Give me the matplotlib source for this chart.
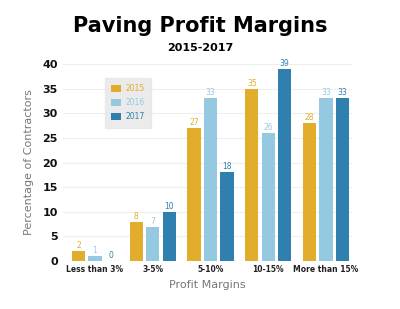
import numpy as np
import matplotlib
matplotlib.use("Agg")
import matplotlib.pyplot as plt

categories = ["Less than 3%", "3-5%", "5-10%", "10-15%", "More than 15%"]
years = ["2015", "2016", "2017"]
values_2015 = [2, 8, 27, 35, 28]
values_2016 = [1, 7, 33, 26, 33]
values_2017 = [0, 10, 18, 39, 33]
colors = ["#E2AD2D", "#95C9E2", "#2F80AE"]

fig = plt.figure(figsize=(4.0, 3.09), dpi=100)
ax = fig.add_axes([0.158, 0.155, 0.722, 0.638])

x = np.arange(len(categories))
width = 0.23
offset = 0.285
series = [values_2015, values_2016, values_2017]
for i, (vals, col, yr) in enumerate(zip(series, colors, years)):
    pos = x + (i - 1) * offset
    bars = ax.bar(pos, vals, width, color=col, label=yr, zorder=3)
    for b, v in zip(bars, vals):
        ax.text(b.get_x() + b.get_width() / 2, v + 0.2, str(v), ha="center", va="bottom",
                fontsize=5.5, color=col, zorder=4)

ax.set_xlim(-0.55, 4.45)
ax.set_ylim(0, 40)
ax.set_yticks(range(0, 41, 5))
ax.set_xticks(x)
ax.set_xticklabels(categories, fontsize=5.5, fontweight="bold", color="#222222")
ax.tick_params(axis="y", labelsize=8, length=0, pad=4, labelcolor="#111111")
ax.tick_params(axis="x", length=0, pad=3)
for lab in ax.get_yticklabels():
    lab.set_fontweight("bold")
ax.grid(axis="y", color="#EEEEEE", linewidth=0.8, zorder=0)
for s in ax.spines.values():
    s.set_visible(False)

ax.set_ylabel("Percentage of Contractors", fontsize=8, color="#777777", labelpad=6)
ax.set_xlabel("Profit Margins", fontsize=8, color="#777777", labelpad=4)

leg = ax.legend(loc="upper left", bbox_to_anchor=(0.13, 0.95), fontsize=5.5, frameon=True,
                facecolor="#E6E6E6", edgecolor="#E6E6E6", fancybox=False,
                handlelength=1.4, handleheight=1.0, handletextpad=0.6,
                borderpad=0.8, labelspacing=0.7)
for t, c in zip(leg.get_texts(), colors):
    t.set_color(c)

fig.text(0.5, 0.915, "Paving Profit Margins", ha="center", va="center",
         fontsize=15, fontweight="black", color="black")
fig.text(0.5, 0.845, "2015-2017", ha="center", va="center",
         fontsize=8, fontweight="black", color="black")

fig.savefig("out.png", dpi=100)
